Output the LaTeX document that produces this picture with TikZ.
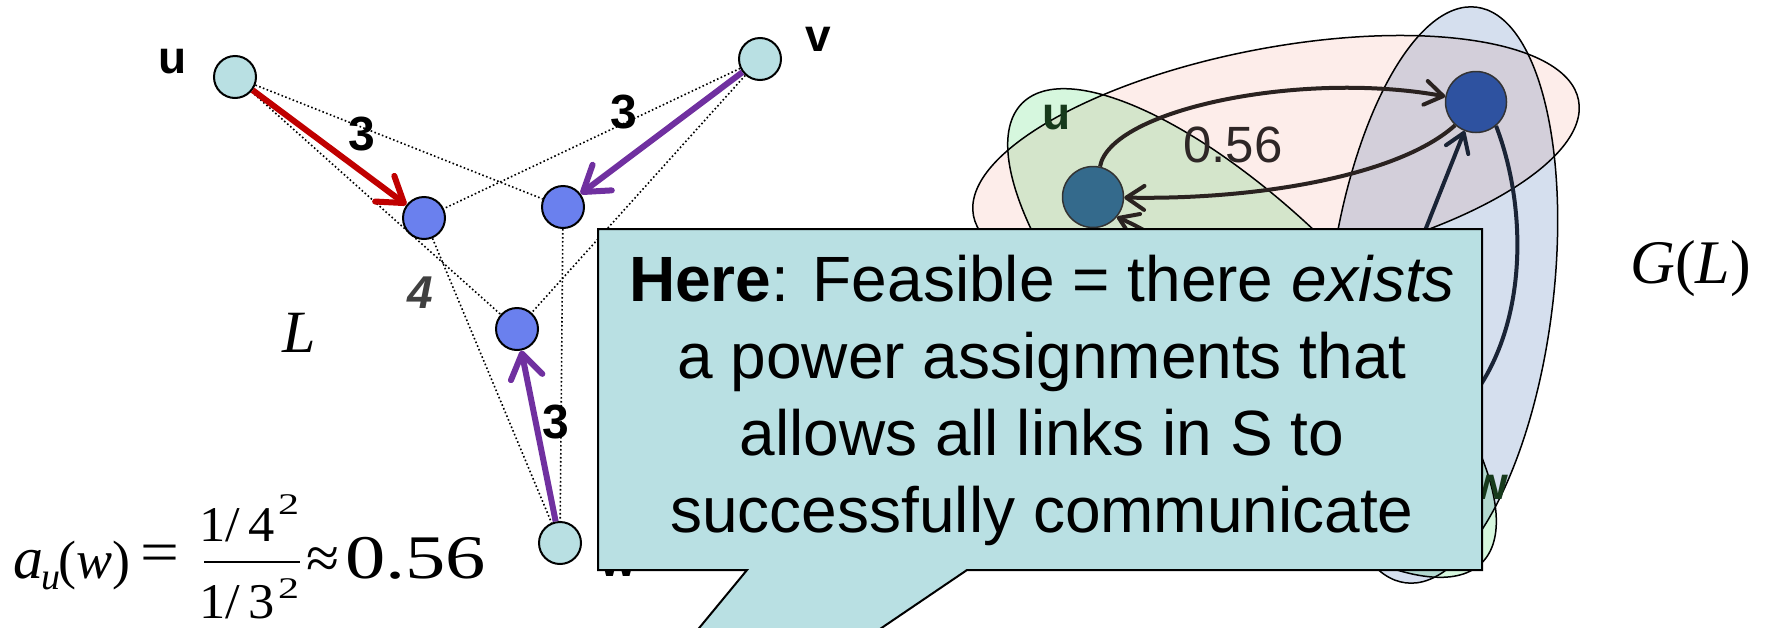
\documentclass[tikz,border=0pt]{standalone}
\usepackage{fontspec}
\usepackage{graphicx}
\setmainfont{Liberation Sans}
\newfontfamily\serf{Liberation Serif}
\usetikzlibrary{arrows.meta,shapes.geometric}
\definecolor{nodecyan}{HTML}{B9E0E3}
\definecolor{nodeblue}{HTML}{6A80EE}
\definecolor{redarr}{HTML}{C00000}
\definecolor{purparr}{HTML}{7030A0}
\definecolor{pinkfill}{HTML}{FDEDEA}
\definecolor{greenfill}{HTML}{D6F7DE}
\definecolor{bluefill}{HTML}{D5DFEE}
\definecolor{gnodecol}{HTML}{346A8C}
\definecolor{rnodecol}{HTML}{2E52A0}
\definecolor{garc}{HTML}{2A2220}
\definecolor{gdark}{HTML}{1A2436}
\definecolor{lblgreen}{HTML}{173A1C}
\definecolor{numgray}{HTML}{404040}
\definecolor{fiftysix}{HTML}{2E2626}
\begin{document}
\begin{tikzpicture}[x=1pt,y=-1pt,
  cnode/.style={circle,draw=black,line width=2pt,fill=nodecyan,minimum size=42pt,inner sep=0pt},
  bnode/.style={circle,draw=black,line width=2pt,fill=nodeblue,minimum size=42pt,inner sep=0pt},
  gnode/.style={circle,draw=black!80,line width=1.5pt,minimum size=61pt,inner sep=0pt},
  lbl/.style={font=\fontsize{46}{50}\selectfont\bfseries,inner sep=0pt},
  glbl/.style={lbl,text=lblgreen},
  num/.style={font=\fontsize{48}{50}\selectfont\bfseries,inner sep=0pt},
  numfour/.style={font=\fontsize{46}{50}\selectfont\bfseries\itshape,text=numgray,inner sep=0pt},
  dots/.style={draw=black,line width=1.6pt,dash pattern=on 1.6pt off 2.4pt},
  bigarrow/.style={line width=6pt,-{Straight Barb[length=24pt,width=32pt,round]}},
  garrow/.style={draw=garc,line width=4pt,-{Straight Barb[length=18pt,width=24pt,round]}},
  gell/.style={ellipse,draw=black,line width=1.5pt,inner sep=0pt,blend mode=multiply},
  callout/.style={draw=black,line width=2pt,fill=nodecyan},
  ctext/.style={font=\fontsize{64}{77}\selectfont,align=center,inner sep=0pt},
  serifbig/.style={font=\serf\fontsize{60}{64}\selectfont,inner sep=0pt},
  fmbig/.style={font=\serf\fontsize{60}{62}\selectfont,inner sep=0pt},
  fmsub/.style={font=\serf\fontsize{38}{40}\selectfont,inner sep=0pt},
  fmfrac/.style={font=\serf\fontsize{50}{52}\selectfont,inner sep=0pt},
  fmsup/.style={font=\serf\fontsize{30}{32}\selectfont,inner sep=0pt}
]
\useasboundingbox (0,0) rectangle (1768,627);
% ---------- left graph L ----------
\node[cnode] (u) at (235,77) {};
\node[cnode] (v) at (760,59) {};
\node[bnode] (A) at (424,218) {};
\node[bnode] (B) at (563,207) {};
\node[bnode] (C) at (517,329) {};
\node[cnode] (w) at (560,543) {};
\draw[dots] (u) -- (B);
\draw[dots] (u) -- (C);
\draw[dots] (v) -- (A);
\draw[dots] (v) -- (C);
\draw[dots] (A) -- (w);
\draw[dots] (B) -- (w);
\draw[bigarrow,draw=redarr] (u) -- (A);
\draw[bigarrow,draw=purparr] (v) -- (B);
\draw[bigarrow,draw=purparr] (w) -- (C);
\node[lbl] (ul) at (173,62) {u};
\node[lbl] (vl) at (818,39) {v};
\node[lbl] (wl) at (618,564) {w};
\node[num] (n1) at (362,134) {3};
\node[num] (n2) at (624,112) {3};
\node[num] (n3) at (556,422) {3};
\node[numfour] (n4) at (420,293) {4};
\node[serifbig,anchor=base] (Ltext) at (299,352) {\textit{L}};
% ---------- formula ----------
\node[fmbig,anchor=base west] (fa) at (13,578) {\textit{a}};
\node[fmsub,anchor=base west] (fu) at (41,589) {\textit{u}};
\node[fmbig,anchor=base west,font=\serf\fontsize{54}{58}\selectfont] (fw) at (58,578) {(\textit{w})};
\node[fmbig,anchor=base] (feq) at (160,572) {\scalebox{1.15}[1]{=}};
\node[fmfrac,anchor=base] (fnum) at (237,541) {\scalebox{1.05}[1]{1/\,4}};
\node[fmsup,anchor=base west] (fnsup) at (278,514) {\scalebox{1.4}[1]{2}};
\node[fmfrac,anchor=base] (fden) at (237,618) {\scalebox{1.05}[1]{1/\,3}};
\node[fmsup,anchor=base west] (fdsup) at (278,598) {\scalebox{1.4}[1]{2}};
\coordinate (fbarl) at (204,562);
\coordinate (fbarr) at (300,562);
\draw[line width=2.5pt] (fbarl) -- (fbarr);
\node[fmbig,anchor=base west] (fapprox) at (306,578) {≈};
\node[fmbig,anchor=base west,font=\serf\fontsize{62}{64}\selectfont] (f056) at (345,578) {\scalebox{1.3}[1]{0.56}};
% ---------- right graph G(L) ----------
\node[gell,fill=pinkfill,rotate=10.8,minimum width=616pt,minimum height=220pt] (Epink) at (1276,158) {};
\node[gell,fill=greenfill,rotate=-45,minimum width=650pt,minimum height=234pt] (Egreen) at (1252,333) {};
\node[gell,fill=bluefill,rotate=-7,minimum width=224pt,minimum height=580pt] (Eblue) at (1441,295) {};
\node[gnode,fill=gnodecol] (L1) at (1093,197) {};
\node[gnode,fill=rnodecol] (R1) at (1476,102) {};
\node[gnode,fill=gnodecol] (W1) at (1330,470) {};
\draw[garrow] (L1.77) .. controls (1110,110) and (1300,70) .. (R1);
\draw[garrow] (R1.228) .. controls (1400,175) and (1260,200) .. (L1);
\draw[garrow,draw=gdark] (W1) -- (R1);
\draw[garrow,draw=gdark] (R1.-50) .. controls (1540,240) and (1525,430) .. (W1);
\draw[garrow] (W1) .. controls (1260,300) and (1170,240) .. (L1.-40);
\node[glbl] (gu) at (1057,118) {u};
\node[glbl] (gw) at (1490,487) {w};
\node[font=\fontsize{51}{55}\selectfont,text=fiftysix,inner sep=0pt] (lab056) at (1233,145) {0.56};
\node[serifbig,anchor=base west,font=\serf\fontsize{62}{66}\selectfont] (GL) at (1630,283) {\textit{G}(\textit{L})};
% ---------- callout ----------
\draw[callout] (598,229) -- (1482,229) -- (1482,570) -- (967,570) -- (849,650) -- (681,650) -- (747,570) -- (598,570) -- cycle;
\node[ctext] (ct) at (1042,400) {\textbf{Here}: Feasible = there \textit{exists}\\a power assignments that\\allows all links in S to\\successfully communicate};
\end{tikzpicture}
\end{document}
